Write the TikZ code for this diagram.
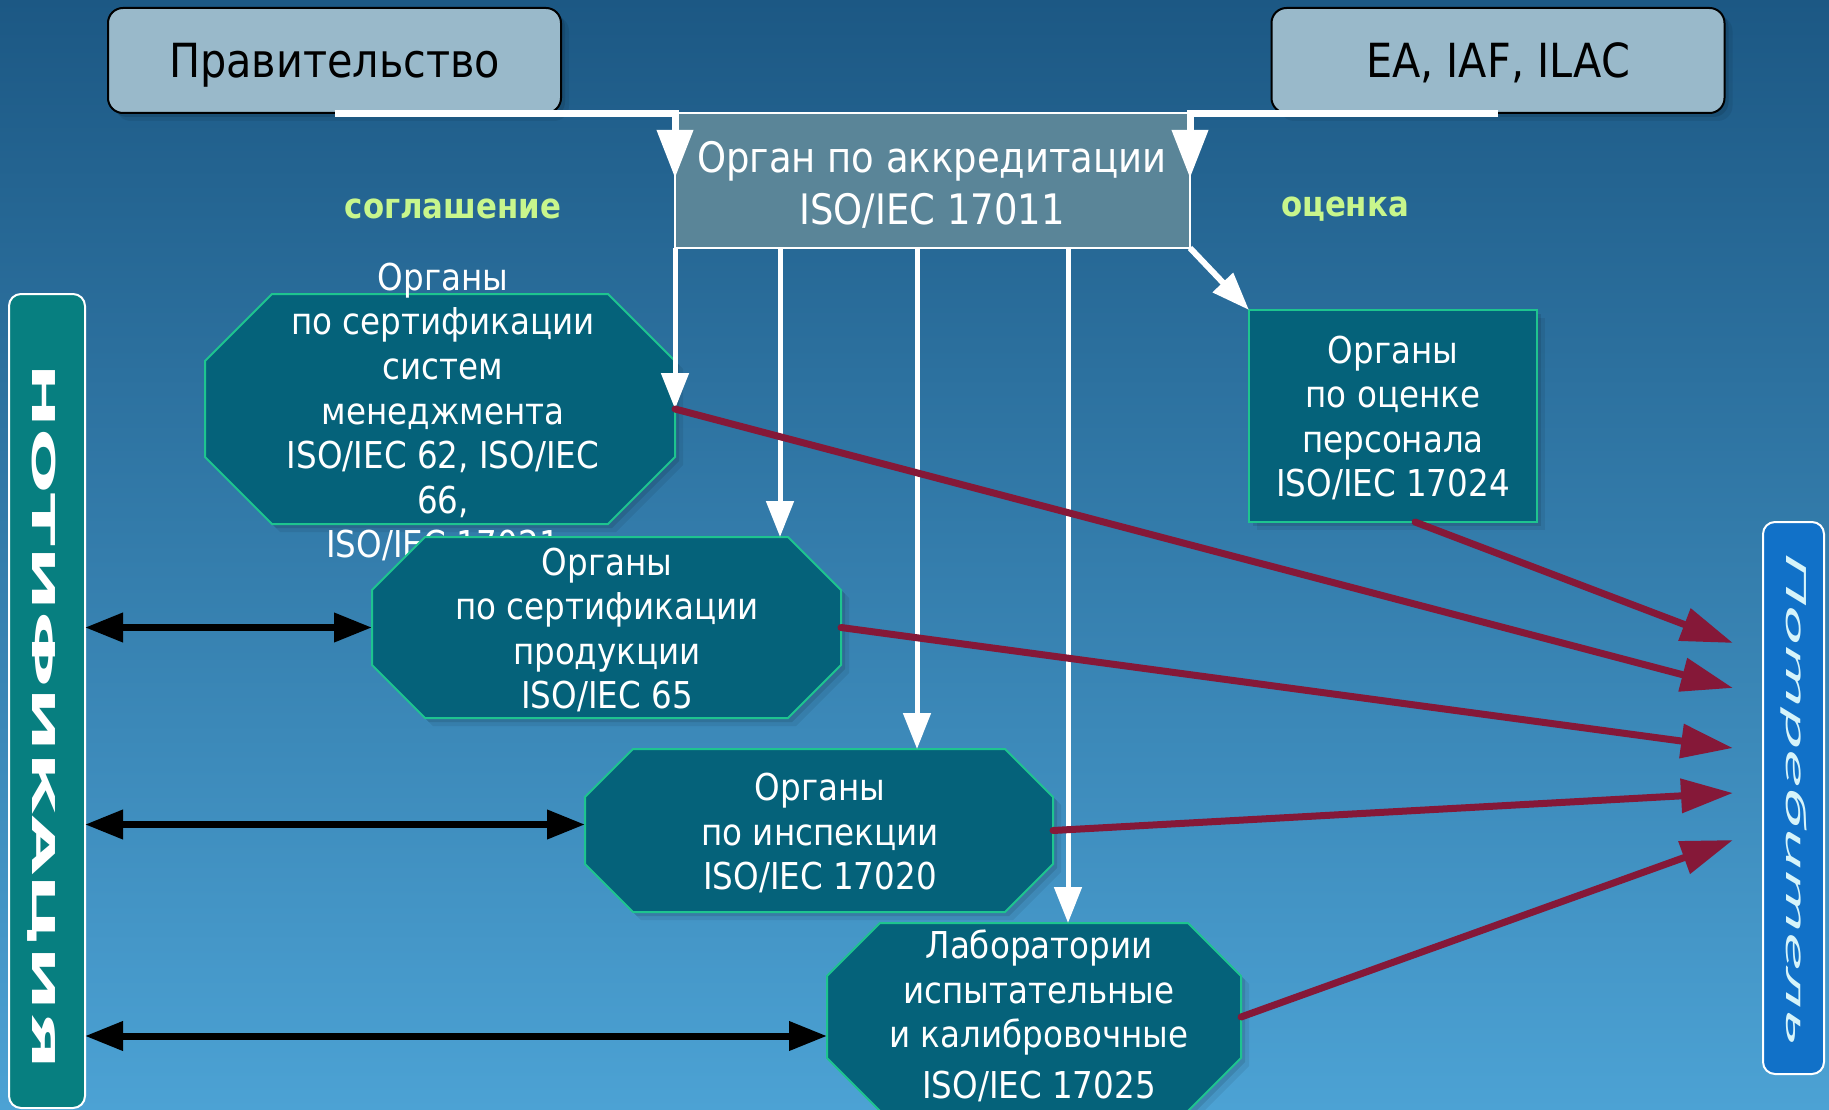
\documentclass[tikz,border=0pt]{standalone}
\usepackage{fontspec}
\setmainfont{DejaVu Sans}[FakeStretch=0.88]
\newfontfamily\ptsansfont{PT Sans}
\usetikzlibrary{arrows.meta,calc,shadows}

\definecolor{bgtop}{HTML}{1C5884}
\definecolor{bgmid}{HTML}{3682B2}
\definecolor{bgbot}{HTML}{4CA2D4}
\definecolor{topbox}{HTML}{99B9CA}
\definecolor{orgbox}{HTML}{5A8598}
\definecolor{tealfill}{HTML}{05627A}
\definecolor{tealedge}{HTML}{1EC48F}
\definecolor{notiffill}{HTML}{077F80}
\definecolor{consfill}{HTML}{1171C8}
\definecolor{maroonc}{HTML}{851838}
\definecolor{agree}{HTML}{C8F68C}
\definecolor{constext}{HTML}{D6F4FA}

\tikzset{
  shadowed/.style={drop shadow={shadow xshift=8pt,shadow yshift=-8pt,opacity=0.07,fill=black},
                   drop shadow={shadow xshift=4pt,shadow yshift=-4pt,opacity=0.10,fill=black}},
  topnode/.style={draw=black, line width=2pt, fill=topbox, rounded corners=15pt,
     minimum width=453pt, minimum height=105pt, inner sep=0pt, text depth=0pt,
     font=\fontsize{47}{56}\selectfont, text=black, shadowed},
  geo/.style={draw=none, fill=none, inner sep=0pt, outer sep=0pt},
  octshape/.style={fill=tealfill, draw=tealedge, line width=2pt, shadowed},
  octtext/.style={align=center, text=white, inner sep=0pt, font=\fontsize{37}{44.6}\selectfont},
  orgnode/.style={fill=orgbox, draw=white, line width=2pt, inner sep=0pt, outer sep=0pt},
  persnode/.style={fill=tealfill, draw=tealedge, line width=2pt, inner sep=0pt, outer sep=0pt, shadowed},
  sidebox/.style={draw=white, line width=2pt, rounded corners=12pt, inner sep=0pt, outer sep=0pt},
  whitethick/.style={draw=white, line width=7pt, -{Triangle[length=48pt,width=35pt]}},
  whitethin/.style={draw=white, line width=5pt, -{Triangle[length=36pt,width=27pt]}},
  whitediag/.style={draw=white, line width=6pt, -{Triangle[length=38pt,width=27pt]}},
  maroonarr/.style={draw=maroonc, line width=7pt, line cap=round, -{Triangle[length=52pt,width=33pt]}},
  blackarr/.style={draw=black, line width=7pt, {Triangle[length=38pt,width=28pt]}-{Triangle[length=38pt,width=28pt]}},
  lbl/.style={text=agree, font=\bfseries\fontsize{35}{42}\selectfont, inner sep=0pt}
}

\newcommand\drawoct[2]{%
  \path[octshape] ($(#1.north west)+(#2,0)$) -- ($(#1.north east)+(-#2,0)$)
    -- ($(#1.north east)+(0,#2)$) -- ($(#1.south east)+(0,-#2)$)
    -- ($(#1.south east)+(-#2,0)$) -- ($(#1.south west)+(#2,0)$)
    -- ($(#1.south west)+(0,-#2)$) -- ($(#1.north west)+(0,#2)$) -- cycle;}

\begin{document}
\begin{tikzpicture}[x=1pt,y=-1pt]
  \useasboundingbox (0,0) rectangle (1829,1110);
  \shade[top color=bgtop, middle color=bgmid, bottom color=bgbot] (0,0) rectangle (1829,1110);

  % top boxes
  \node[topnode] (gov) at (334.5,60.5) {Правительство};
  \node[topnode] (ea) at (1498,60.5) {EA, IAF, ILAC};

  % accreditation body
  \node[orgnode, minimum width=515pt, minimum height=135pt] (org) at (932.5,180.5) {};
  \node[octtext, font=\fontsize{42}{52}\selectfont] (orgt) at (932,185) {Орган по аккредитации\\ISO/IEC 17011};

  % labels
  \node[lbl] (agreelbl) at (453,209) {соглашение};
  \node[lbl] (evallbl) at (1345,209) {оценка};

  % geometry nodes of octagons
  \node[geo, minimum width=470pt, minimum height=230pt] (m1) at (440,409) {};
  \node[geo, minimum width=469pt, minimum height=181pt] (m2) at (606.5,627.5) {};
  \node[geo, minimum width=468pt, minimum height=163pt] (m3) at (819,830.5) {};
  \node[geo, minimum width=414pt, minimum height=188pt] (m4) at (1034,1017) {};

  % personnel body
  \node[persnode, minimum width=288pt, minimum height=212pt] (pers) at (1393,416) {};
  \node[octtext] (perst) at (1393,418) {Органы\\по оценке\\персонала\\ISO/IEC 17024};

  % white arrows from top boxes
  \coordinate (govend) at ($(org.north west)+(0,65)$);
  \coordinate (eaend) at ($(org.north east)+(0,65)$);
  \draw[whitethick] (gov.south) -| (govend);
  \draw[whitethick] (ea.south) -| (eaend);

  % diagonal arrow to personnel body
  \draw[whitediag] (org.south east) -- (pers.north west);

  % octagons with their texts
  \drawoct{m1}{67}
  \node[octtext] (m1t) at (443,412) {Органы\\по сертификации\\систем\\менеджмента\\ISO/IEC 62, ISO/IEC\\66,\\ISO/IEC 17021};
  \drawoct{m2}{53}
  \node[octtext] (m2t) at (607,630) {Органы\\по сертификации\\продукции\\ISO/IEC 65};
  \drawoct{m3}{48}
  \node[octtext] (m3t) at (820,833) {Органы\\по инспекции\\ISO/IEC 17020};
  \drawoct{m4}{53}
  \node[octtext] (m4t) at (1039,1016) {Лаборатории\\испытательные\\и калибровочные\\[6pt]ISO/IEC 17025};

  % white vertical arrows from the accreditation body
  \coordinate (o2) at ($(org.south west)+(105,0)$);
  \coordinate (o3) at ($(org.south west)+(242,0)$);
  \coordinate (o4) at ($(org.south west)+(393,0)$);
  \draw[whitethin] (org.south west) -- (m1.east);
  \draw[whitethin] (o2) -- (o2 |- m2.north);
  \draw[whitethin] (o3) -- (o3 |- m3.north);
  \draw[whitethin] (o4) -- (o4 |- m4.north);

  % side boxes
  \node[sidebox, fill=notiffill, minimum width=76pt, minimum height=814pt] (notif) at (47,701) {};
  \node[rotate=-90, text=white, inner sep=0pt] (notift) at (42,717)
     {\resizebox{706pt}{\height}{\bfseries\fontsize{31.5}{36}\selectfont НОТИФИКАЦИЯ}};
  \node[sidebox, fill=consfill, minimum width=61pt, minimum height=552pt] (cons) at (1793.5,798) {};
  \node[rotate=-90, text=constext, inner sep=0pt] (const) at (1794,799)
     {\resizebox{492pt}{\height}{\ptsansfont\itshape\fontsize{28.5}{34}\selectfont Потребитель}};

  % maroon arrows to consumer
  \coordinate (c1) at ($(cons.north west)+(-30,121)$);
  \coordinate (c2) at ($(cons.north west)+(-30,166)$);
  \coordinate (c3) at ($(cons.north west)+(-30,226)$);
  \coordinate (c4) at ($(cons.north west)+(-30,271)$);
  \coordinate (c5) at ($(cons.north west)+(-30,318)$);
  \coordinate (ps) at ($(pers.south)+(22,0)$);
  \draw[maroonarr] (ps) -- (c1);
  \draw[maroonarr] (m1.east) -- (c2);
  \draw[maroonarr] (m2.east) -- (c3);
  \draw[maroonarr] (m3.east) -- (c4);
  \draw[maroonarr] (m4.east) -- (c5);

  % notification double arrows
  \coordinate (b2) at ($(m3.west)+(0,-6)$);
  \coordinate (b3) at ($(m4.west)+(0,19)$);
  \draw[blackarr] (notif.east |- m2.west) -- (m2.west);
  \draw[blackarr] (notif.east |- b2) -- (b2);
  \draw[blackarr] (notif.east |- b3) -- (b3);
\end{tikzpicture}
\end{document}
